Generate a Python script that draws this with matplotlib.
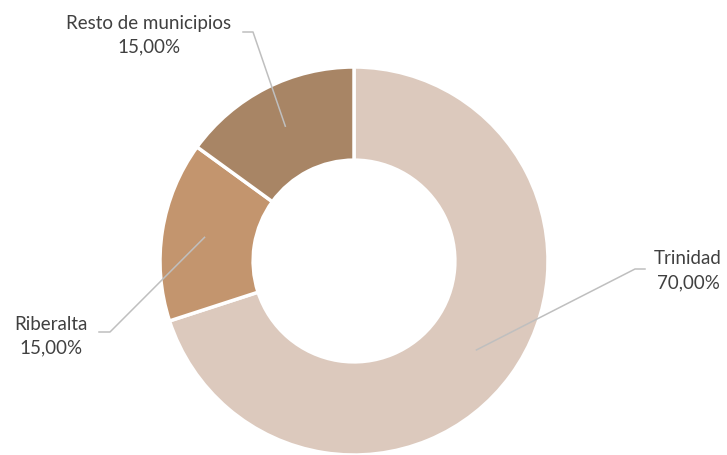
import numpy as np
import matplotlib.pyplot as plt

# Datos
municipios = ["Trinidad", "Riberalta", "Resto de municipios"]
porcentajes = [70.0, 15.0, 15.0]
colores = ["#DCC9BD", "#C3956E", "#A88565"]

# posiciones de las etiquetas (pixeles, y hacia abajo) y codo de la linea guia
pos_etiqueta = [(688, 271), (51, 336), (149, 35)]
codo = [(645, 269), (99, 332), (243, 32)]
codo2 = [(635, 269), (110, 332), (253, 32)]

W, H = 727, 455
fig = plt.figure(figsize=(W / 100, H / 100), dpi=100)
ax = fig.add_axes([0, 0, 1, 1])
ax.set_xlim(0, W)
ax.set_ylim(0, H)
ax.set_aspect("equal")
ax.axis("off")

cx, cy = 354, H - 261
R = 194
wedges, _ = ax.pie(porcentajes, colors=colores, startangle=90, counterclock=False,
                   radius=R, center=(cx, cy),
                   wedgeprops=dict(width=R * 0.48, edgecolor="white", linewidth=2.5))
ax.set_xlim(0, W)
ax.set_ylim(0, H)

color_linea = "#BFBFBF"
for w, nombre, p, pe, c1, c2 in zip(wedges, municipios, porcentajes, pos_etiqueta, codo, codo2):
    ang = np.deg2rad((w.theta1 + w.theta2) / 2)
    ax_x = cx + 0.78 * R * np.cos(ang)
    ax_y = cy + 0.78 * R * np.sin(ang)
    ax.plot([c1[0], c2[0], ax_x], [H - c1[1], H - c2[1], ax_y], color=color_linea, lw=1.1)
    txt = f"{nombre}\n{p:.2f}%".replace(".", ",")
    ax.text(pe[0], H - pe[1], txt, ha="center", va="center", fontsize=13.5,
            family="Lato", color="#404040", linespacing=1.5)

fig.savefig("out.png", dpi=100)
